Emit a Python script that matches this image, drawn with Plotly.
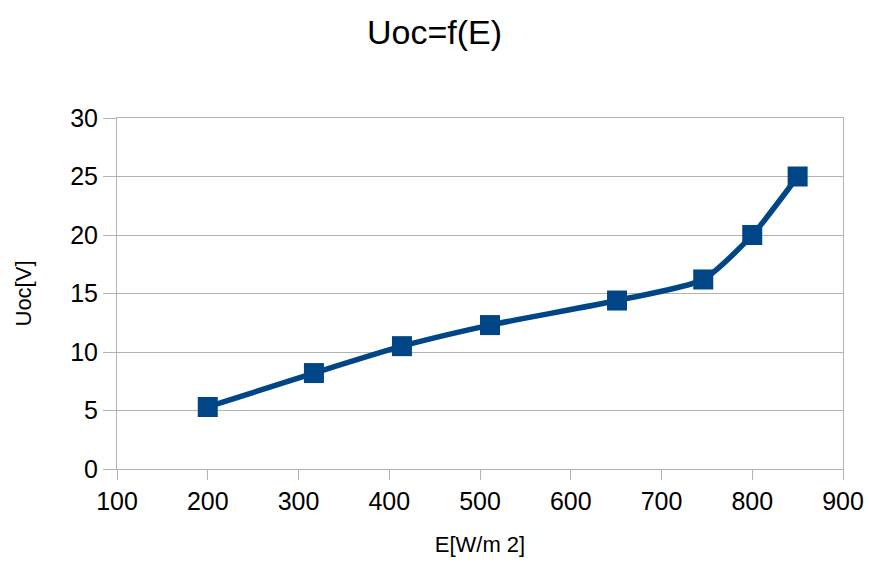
import plotly.graph_objects as go

# Irradiance E [W/m2] and open-circuit voltage Uoc [V]
irradiance = [200, 317, 414, 511, 651, 746, 800, 850]
uoc = [5.3, 8.2, 10.5, 12.3, 14.4, 16.2, 20.0, 25.0]

x_ticks = [100, 200, 300, 400, 500, 600, 700, 800, 900]
y_ticks = [0, 5, 10, 15, 20, 25, 30]

line_color = "#004586"
grid_color = "#b3b3b3"
font_family = "Liberation Sans, Arial, sans-serif"

fig = go.Figure()
fig.add_trace(go.Scatter(
    x=irradiance,
    y=uoc,
    mode="lines+markers",
    line=dict(color=line_color, width=5.5, shape="spline", smoothing=0.6),
    marker=dict(symbol="square", size=20, color=line_color),
    showlegend=False,
))

fig.update_layout(
    width=869,
    height=574,
    margin=dict(l=117, r=26, t=118, b=105),
    paper_bgcolor="white",
    plot_bgcolor="white",
    font=dict(family=font_family, color="#000000"),
    title=dict(
        text="Uoc=f(E)",
        x=0.5,
        xanchor="center",
        y=1 - 32 / 574,
        yanchor="middle",
        font=dict(size=34, family=font_family, color="#000000"),
    ),
    xaxis=dict(
        range=[100, 900],
        tickvals=x_ticks,
        ticktext=[str(v) for v in x_ticks],
        showgrid=False,
        zeroline=False,
        showline=True,
        linecolor=grid_color,
        linewidth=1,
        mirror=True,
        ticks="outside",
        ticklen=10,
        tickcolor=grid_color,
        tickfont=dict(size=25),
        automargin=False,
        title=dict(text="E[W/m 2]", font=dict(size=22), standoff=22),
    ),
    yaxis=dict(
        range=[0, 30],
        tickvals=y_ticks,
        ticktext=[str(v) for v in y_ticks],
        showgrid=True,
        gridcolor=grid_color,
        gridwidth=1,
        zeroline=False,
        showline=True,
        linecolor=grid_color,
        linewidth=1,
        mirror=True,
        ticks="outside",
        ticklen=13,
        tickcolor=grid_color,
        tickfont=dict(size=25),
        automargin=False,
        title=dict(text="Uoc[V]", font=dict(size=22), standoff=32),
    ),
)

fig.write_html("out.html")
